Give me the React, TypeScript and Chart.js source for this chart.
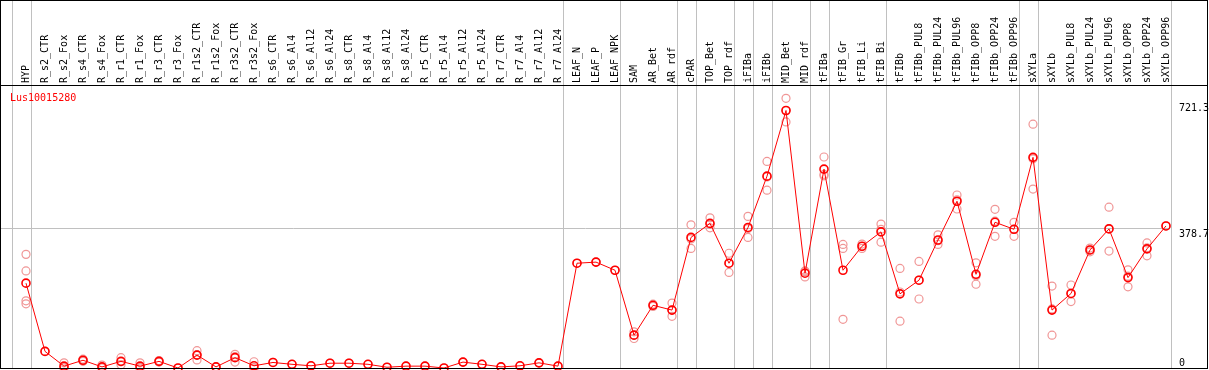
import React, { useEffect, useRef } from "react";
import { Chart, registerables } from "chart.js";

Chart.register(...registerables);

const categories = [
  "HYP", "R_s2_CTR", "R_s2_Fox", "R_s4_CTR", "R_s4_Fox", "R_r1_CTR", "R_r1_Fox", "R_r3_CTR", "R_r3_Fox",
  "R_r1s2_CTR", "R_r1s2_Fox", "R_r3s2_CTR", "R_r3s2_Fox", "R_s6_CTR", "R_s6_Al4", "R_s6_Al12", "R_s6_Al24",
  "R_s8_CTR", "R_s8_Al4", "R_s8_Al12", "R_s8_Al24", "R_r5_CTR", "R_r5_Al4", "R_r5_Al12", "R_r5_Al24",
  "R_r7_CTR", "R_r7_Al4", "R_r7_Al12", "R_r7_Al24", "LEAF_N", "LEAF_P", "LEAF_NPK", "SAM", "AR_Bet", "AR_rdf",
  "cPAR", "TOP_Bet", "TOP_rdf", "iFIBa", "iFIBb", "MID_Bet", "MID_rdf", "tFIBa", "tFIB_Gr", "tFIB_Li", "tFIB_Bi",
  "tFIBb", "tFIBb_PUL8", "tFIBb_PUL24", "tFIBb_PUL96", "tFIBb_OPP8", "tFIBb_OPP24", "tFIBb_OPP96", "sXYLa",
  "sXYLb", "sXYLb_PUL8", "sXYLb_PUL24", "sXYLb_PUL96", "sXYLb_OPP8", "sXYLb_OPP24", "sXYLb_OPP96",
];

const meanValues = [
  230, 45, 5, 21, 3, 18, 5, 18, 0, 35, 3, 28, 6, 15, 10, 6, 13, 13, 10, 2, 5, 5, 0, 16, 10, 3, 6, 14, 5,
  284, 287, 265, 89, 170, 157, 354, 392, 284, 381, 520, 698, 257, 539, 265, 330, 369,
  201, 238, 347, 452, 254, 395, 376, 571, 157, 202, 320, 377, 245, 323, 385,
];

const replicateValues: number[][] = [
  [308, 263, 182, 174], [45], [14, 2, 0], [24, 21, 18], [8, 1, 1], [28, 17, 9], [14, 1, 0], [20, 16], [0],
  [47, 22, 36], [3], [37, 16, 31], [17, 1, 0], [15], [10], [6], [13], [13], [10], [2], [5], [5], [0], [16],
  [10], [3], [6], [14], [5],
  [284], [287], [265], [98, 89, 80], [173, 167], [176, 140, 157], [388, 324, 350], [407, 380, 390],
  [311, 259, 284], [411, 354, 378], [560, 482, 518], [731, 667, 698], [247, 261, 263], [572, 525, 521],
  [335, 324, 132], [324, 336, 330], [390, 341, 376],
  [270, 127, 206], [289, 187, 238], [361, 335, 345], [469, 431, 456], [285, 227, 250], [430, 357, 398],
  [395, 357, 376], [661, 485, 567], [222, 89, 160], [225, 180, 201], [315, 325, 320], [436, 317, 378],
  [266, 220, 249], [339, 304, 326], [385],
];

const groupEnds = [-1, 0, 28, 31, 34, 35, 37, 38, 39, 41, 42, 45, 52, 53, 60];
const yTickValues = [0, 378.7, 721.3];
const yTickLabels = ["0", "378.7", "721.3"];
const geneName = "Lus10015280";
const yMax = 764.4;

export default function App() {
  const ref = useRef<HTMLCanvasElement | null>(null);

  useEffect(() => {
    document.body.style.margin = "0";
    const canvas = ref.current;
    if (!canvas) return;

    const plotLeft = 2;
    const plotRight = 1170;
    const step = 19;
    const firstX = 26;
    const xMin = -(firstX - plotLeft) / step;
    const xMax = (plotRight - firstX) / step;
    const mono = "'DejaVu Sans Mono', monospace";

    const repPoints: { x: number; y: number }[] = [];
    replicateValues.forEach((arr, i) => arr.forEach((v) => repPoints.push({ x: i, y: v })));
    const meanPoints = meanValues.map((v, i) => ({ x: i, y: v }));

    const framePlugin = {
      id: "frame",
      beforeDatasetsDraw(chart: any) {
        const ctx = chart.ctx;
        const xs = chart.scales.x;
        const ys = chart.scales.y;
        ctx.save();
        ctx.strokeStyle = "#c0c0c0";
        ctx.lineWidth = 1;
        const gy = Math.round(ys.getPixelForValue(yTickValues[1])) + 0.5;
        ctx.beginPath();
        ctx.moveTo(1, gy);
        ctx.lineTo(plotRight, gy);
        ctx.stroke();
        groupEnds.forEach((g) => {
          const px = Math.round(xs.getPixelForValue(g + 0.24)) + 0.5;
          ctx.beginPath();
          ctx.moveTo(px, 0);
          ctx.lineTo(px, 368);
          ctx.stroke();
        });
        ctx.restore();
      },
      afterDraw(chart: any) {
        const ctx = chart.ctx;
        const ys = chart.scales.y;
        ctx.save();
        ctx.strokeStyle = "#000";
        ctx.lineWidth = 1;
        ctx.strokeRect(0.5, 0.5, 1207, 368);
        ctx.beginPath();
        ctx.moveTo(0, 85.5);
        ctx.lineTo(1208, 85.5);
        ctx.stroke();
        ctx.font = "10px " + mono;
        ctx.textBaseline = "alphabetic";
        ctx.textAlign = "left";
        ctx.fillStyle = "#ff0000";
        ctx.fillText(geneName, 10, 101);
        ctx.fillStyle = "#000";
        yTickValues.forEach((v, k) => {
          const py = ys.getPixelForValue(v);
          const base = v === 0 ? 366 : py + 9;
          ctx.fillText(yTickLabels[k], 1179, base);
        });
        ctx.restore();
      },
    };

    const chart = new Chart(canvas, {
      type: "line",
      data: {
        datasets: [
          {
            data: repPoints,
            showLine: false,
            pointRadius: 4,
            pointHoverRadius: 4,
            pointBorderWidth: 1.2,
            pointBorderColor: "rgb(240,150,150)",
            pointBackgroundColor: "rgba(0,0,0,0)",
            order: 2,
            clip: false,
          } as any,
          {
            data: meanPoints,
            borderColor: "#ff0000",
            borderWidth: 1,
            tension: 0,
            pointRadius: 4,
            pointHoverRadius: 4,
            pointBorderWidth: 1.6,
            pointBorderColor: "#ff0000",
            pointBackgroundColor: "rgba(0,0,0,0)",
            order: 1,
            clip: false,
          } as any,
        ],
      },
      options: {
        animation: false,
        responsive: false,
        events: [],
        layout: { autoPadding: false, padding: { left: plotLeft, right: 1209 - plotRight, top: 0, bottom: 2 } },
        plugins: { legend: { display: false }, tooltip: { enabled: false } },
        scales: {
          x: {
            type: "linear",
            position: "top",
            min: xMin,
            max: xMax,
            grid: { display: false, drawTicks: false },
            border: { display: false },
            afterBuildTicks: (s: any) => {
              s.ticks = categories.map((_, i) => ({ value: i }));
            },
            afterFit: (s: any) => {
              s.height = 86;
              s.paddingLeft = 0;
              s.paddingRight = 0;
            },
            ticks: {
              autoSkip: false,
              minRotation: 90,
              maxRotation: 90,
              padding: 3,
              labelOffset: 12,
              color: "#000",
              font: { family: mono, size: 10 },
              callback: (v: any) => categories[v as number] ?? "",
            },
          } as any,
          y: { min: 0, max: yMax, display: false },
        },
      },
      plugins: [framePlugin],
    });

    return () => chart.destroy();
  }, []);

  return <canvas ref={ref} width={1209} height={370} style={{ display: "block" }} />;
}
